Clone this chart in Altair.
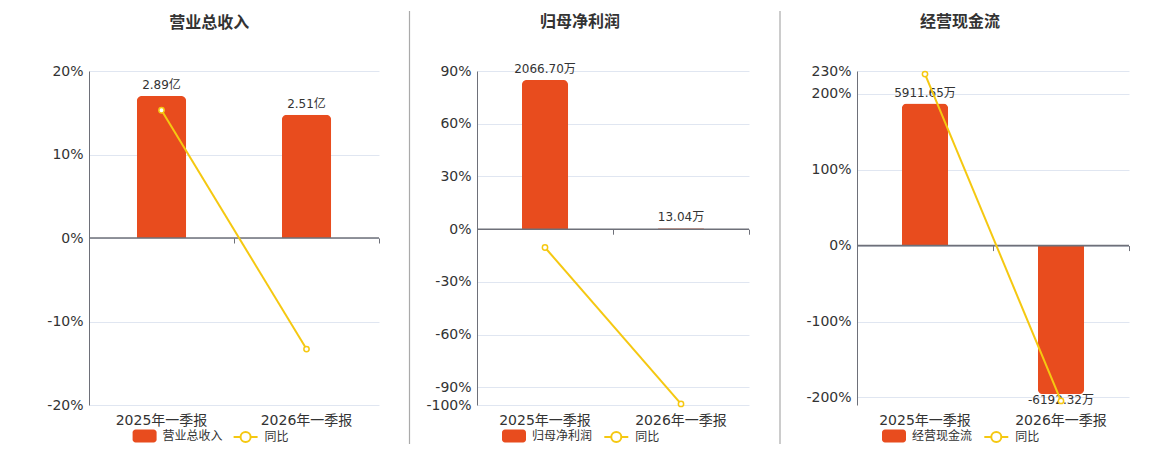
import altair as alt
import pandas as pd

# ---------------- data ----------------
CATS = ["2025年一季报", "2026年一季报"]
TITLES = ["营业总收入", "归母净利润", "经营现金流"]
BAR_VALUES = [[2.89, 2.51], [2066.70, 13.04], [5911.65, -6192.32]]
BAR_LABELS = [["2.89亿", "2.51亿"], ["2066.70万", "13.04万"], ["5911.65万", "-6192.32万"]]
YOY = [[15.3, -13.3], [-10.4, -99.37], [226.0, -204.7]]
YOY_NAME = "同比"
PCT_DOMAINS = [[-20, 20], [-100, 90], [-210, 230]]
PCT_TICKS = [[-20, -10, 0, 10, 20],
             [-100, -90, -60, -30, 0, 30, 60, 90],
             [-200, -100, 0, 100, 200, 230]]
BAR_DOMAINS = [[-3.4, 3.4], [-2433, 2190], [-6640, 7270]]

# ---------------- style ----------------
BAR_COLOR = "#E84C1E"
LINE_COLOR = "#F5C811"
TEXT = "#333333"
AXIS = "#6E7079"
GRID = "#E0E6F1"
SEP = "#AAAAAA"
FONT = "DejaVu Sans, Noto Sans CJK SC"
CJK = "Noto Sans CJK SC"
H = 334

RECT_PATH = ("M-0.75,-0.54 L0.75,-0.54 A0.25,0.25 0 0 1 1,-0.29 L1,0.29 "
             "A0.25,0.25 0 0 1 0.75,0.54 L-0.75,0.54 A0.25,0.25 0 0 1 -1,0.29 "
             "L-1,-0.29 A0.25,0.25 0 0 1 -0.75,-0.54 Z")
LINE_PATH = ("M-1,0 L-0.42,0 M0.42,0 L1,0 M0.42,0 A0.42,0.42 0 1 1 -0.42,0 "
             "A0.42,0.42 0 1 1 0.42,0")
NO_VIEW = alt.ViewBackground(strokeWidth=0, strokeOpacity=0)


def panel(i, width, title_dx, sep_x, sep_visible, leg_x, line_leg_x, leg_y=353):
    df = pd.DataFrame({"cat": CATS, "bar": BAR_VALUES[i],
                       "label": BAR_LABELS[i], "yoy": YOY[i],
                       "series": [TITLES[i]] * len(CATS),
                       "yoyname": [YOY_NAME] * len(CATS)})
    base = alt.Chart(df)
    xscale = alt.Scale(domain=CATS, paddingInner=0, paddingOuter=0)

    # ---- bars group (hidden value axis) ----
    label_axis = alt.Axis(orient="bottom", title=None, domain=False, ticks=False,
                          tickSize=0, grid=False, labelAngle=0, labelFontSize=14,
                          labelColor=TEXT, labelFont=FONT, labelPadding=8)
    x_b = alt.X("cat:N", scale=xscale, axis=label_axis, sort=CATS)
    bar_y = alt.Y("bar:Q", scale=alt.Scale(domain=BAR_DOMAINS[i], nice=False), axis=None)
    fill = alt.Fill("series:N",
                    scale=alt.Scale(domain=[TITLES[i]], range=[BAR_COLOR]),
                    legend=alt.Legend(title=None, orient="none", legendX=leg_x, legendY=leg_y,
                                      symbolType=RECT_PATH, symbolSize=576,
                                      symbolStrokeWidth=0, labelFontSize=12,
                                      labelColor=TEXT, labelFont=CJK, labelOffset=6,
                                      padding=0))
    bar_pos = base.transform_filter("datum.bar >= 0").mark_bar(
        width=alt.RelativeBandSize(0.34), cornerRadiusTopLeft=5, cornerRadiusTopRight=5
    ).encode(x=x_b, y=bar_y, fill=fill)
    bar_neg = base.transform_filter("datum.bar < 0").mark_bar(
        width=alt.RelativeBandSize(0.34), cornerRadiusBottomLeft=5, cornerRadiusBottomRight=5
    ).encode(x=x_b, y=bar_y, fill=fill)
    txt_pos = base.transform_filter("datum.bar >= 0").mark_text(
        dy=-11, baseline="middle", fontSize=12, color=TEXT, font=FONT
    ).encode(x=x_b, y=bar_y, text="label:N")
    txt_neg = base.transform_filter("datum.bar < 0").mark_text(
        dy=6, baseline="middle", fontSize=12, color=TEXT, font=FONT
    ).encode(x=x_b, y=bar_y, text="label:N")
    bars = alt.layer(bar_pos, bar_neg, txt_pos, txt_neg)

    # ---- yoy line group (percent axis) ----
    d0, d1 = PCT_DOMAINS[i]
    pct_scale = alt.Scale(domain=PCT_DOMAINS[i], nice=False)
    zero_axis = alt.Axis(orient="bottom", offset=-H * (0 - d0) / (d1 - d0), title=None,
                         labels=False, domain=False, ticks=True, tickBand="extent",
                         tickSize=5, tickColor=AXIS, tickWidth=1, grid=False)
    x_l = alt.X("cat:N", scale=xscale, axis=zero_axis, sort=CATS)
    y_axis = alt.Axis(orient="left", values=PCT_TICKS[i], labelExpr="datum.value + '%'",
                      title=None, domain=True, domainColor=AXIS, domainWidth=1,
                      ticks=False, grid=True, gridColor=GRID, gridWidth=1,
                      labelFontSize=14, labelColor=TEXT, labelFont=FONT, labelPadding=6)
    zero_rule = alt.Chart(pd.DataFrame({"z": [0]})).mark_rule(
        color=AXIS, strokeWidth=1.6
    ).encode(y=alt.Y("z:Q", scale=pct_scale, axis=y_axis))
    stroke = alt.Stroke("yoyname:N",
                        scale=alt.Scale(domain=[YOY_NAME], range=[LINE_COLOR]),
                        legend=alt.Legend(title=None, orient="none", legendX=line_leg_x,
                                          legendY=leg_y, symbolType=LINE_PATH,
                                          symbolSize=576, symbolStrokeWidth=2,
                                          symbolFillColor="white", labelFontSize=12,
                                          labelColor=TEXT, labelFont=CJK, labelOffset=6,
                                          padding=0))
    line = base.mark_line(strokeWidth=2).encode(
        x=x_l, y=alt.Y("yoy:Q", scale=pct_scale, axis=y_axis), stroke=stroke)
    pts = base.mark_circle(size=28, fill="white", stroke=LINE_COLOR, strokeWidth=1.5,
                           opacity=1).encode(
        x=x_l, y=alt.Y("yoy:Q", scale=pct_scale, axis=y_axis))
    lines = alt.layer(zero_rule, line, pts)

    sep = alt.Chart(pd.DataFrame({"s": [0]})).mark_rule(
        color=SEP, strokeWidth=1.2, opacity=1 if sep_visible else 0
    ).encode(x=alt.value(sep_x), y=alt.value(-60), y2=alt.value(373))

    return alt.layer(sep, bars, lines).resolve_scale(
        y="independent", x="shared"
    ).resolve_axis(x="independent", y="independent").properties(
        width=width, height=H, view=NO_VIEW,
        title=alt.TitleParams(text=TITLES[i], fontSize=16, fontWeight="bold", color=TEXT,
                              font=CJK, anchor="middle", frame="group", dx=title_dx,
                              dy=15.7, offset=-12, baseline="middle"))


p1 = panel(0, 290, -24.7, -81, False, 43.6, 143.6)
p2 = panel(1, 272, -32.9, -67.5, True, 25, 126.3)
p3 = panel(2, 272, -32.9, -77, True, 25, 126.3)

inner = alt.hconcat(p2, p3, spacing=108, bounds="flush").resolve_scale(
    fill="independent", stroke="independent")
chart = alt.hconcat(p1, inner, spacing=98, bounds="flush").resolve_scale(
    fill="independent", stroke="independent"
).properties(
    padding={"left": 0, "top": 2, "right": 0, "bottom": 0},
    background="white"
).configure_view(strokeWidth=0, strokeOpacity=0)

chart.save("out.html", embed_options={"renderer": "svg", "actions": False})
